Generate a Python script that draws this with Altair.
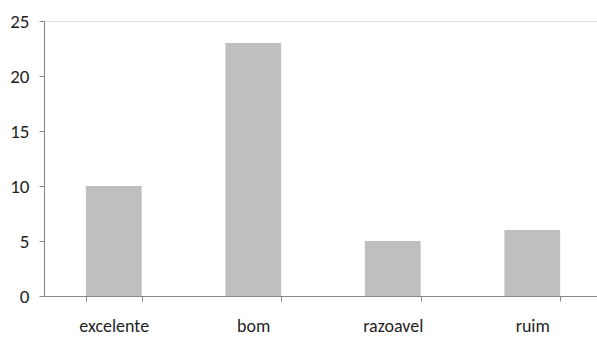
import altair as alt
import pandas as pd

categories = ["excelente", "bom", "razoavel", "ruim"]
counts = [10, 23, 5, 6]
y_ticks = [0, 5, 10, 15, 20, 25]

df = pd.DataFrame({"categoria": categories, "total": counts})

FONT = "Carlito, Lato, sans-serif"
AXIS_GRAY = "#868686"
TEXT = "#1f1f1f"

chart = (
    alt.Chart(df)
    .mark_bar(color="#bfbfbf")
    .encode(
        x=alt.X(
            "categoria:N",
            sort=categories,
            scale=alt.Scale(paddingInner=0.6, paddingOuter=0.3, range=[0, 558]),
            axis=alt.Axis(
                title=None,
                labelAngle=0,
                tickBand="extent",
                tickSize=5,
                labelPadding=16,
                domainColor=AXIS_GRAY,
                tickColor=AXIS_GRAY,
                labelFont=FONT,
                labelFontSize=18,
                labelColor=TEXT,
            ),
        ),
        y=alt.Y(
            "total:Q",
            scale=alt.Scale(domain=[0, 25], nice=False),
            axis=alt.Axis(
                title=None,
                values=y_ticks,
                grid=False,
                tickSize=5,
                labelPadding=10,
                domainColor=AXIS_GRAY,
                tickColor=AXIS_GRAY,
                labelFont=FONT,
                labelFontSize=19,
                labelColor=TEXT,
            ),
        ),
    )
    .properties(
        width=553,
        height=275,
        autosize=alt.AutoSizeParams(type="none"),
        padding={"left": 44, "top": 21, "right": 0, "bottom": 41},
    )
    .configure_view(stroke=None)
    .configure(background="white")
)

chart.save("out.html", embed_options={"renderer": "svg", "actions": False})
